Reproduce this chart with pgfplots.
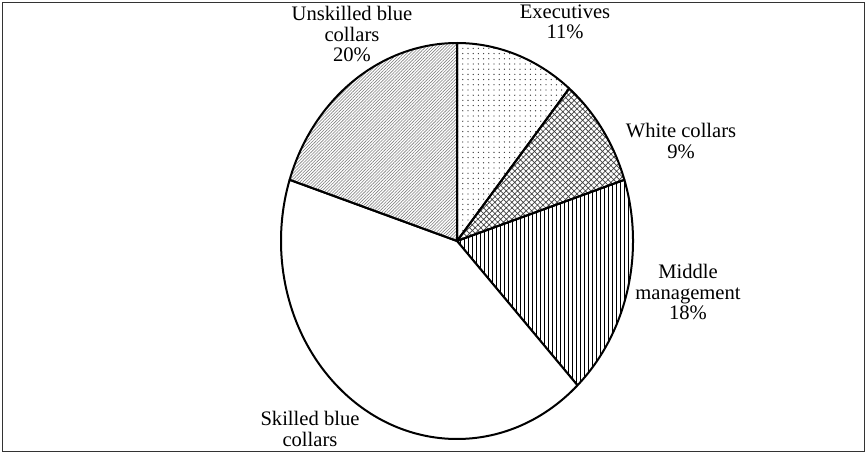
\documentclass[border=0pt]{standalone}
\usepackage{pgfplots}
\pgfplotsset{compat=1.18}
\usepackage{pgfplotstable}
\usepackage{fontspec}
\setmainfont{Liberation Serif}
\usetikzlibrary{patterns.meta}

\pgfplotstableread{
pct style
11 pexe
9 pwhite
18 pmid
42 pskilled
20 punskilled
}\piedata

\tikzset{
 pexe/.style={pattern={Dots[distance=2.6pt, radius=0.33pt]}, pattern color=black!80},
 pwhite/.style={pattern={Hatch[angle=45, distance=2pt, line width=0.35pt]}, pattern color=black!75},
 pmid/.style={pattern={Lines[angle=90, distance=2pt, line width=0.4pt]}, pattern color=black},
 pskilled/.style={fill=white},
 punskilled/.style={pattern={Lines[angle=45, distance=1.1pt, line width=0.3pt]}, pattern color=black!50},
 lab/.style={align=center, font=\fontsize{10.3}{10.3}\selectfont, inner sep=0pt},
}

\begin{document}
\begin{tikzpicture}[x=0.5pt,y=-0.5pt]
\useasboundingbox (0,0) rectangle (867,454);
\draw[line width=0.6pt, black!80] (2.5,2.5) rectangle (864.5,451.5);
\begin{axis}[
  hide axis, clip=false,
  x={(88pt,0pt)}, y={(0pt,99pt)},
  xmin=-1, xmax=1, ymin=-1, ymax=1,
  anchor=origin, at={(228.5pt,-120.5pt)},
]
\pgfplotstablegetrowsof{\piedata}
\pgfmathtruncatemacro\N{\pgfplotsretval-1}
\def\startangle{90}
\pgfplotsforeachungrouped \i in {0,...,\N}{
  \pgfplotstablegetelem{\i}{pct}\of\piedata \let\p\pgfplotsretval
  \pgfplotstablegetelem{\i}{style}\of\piedata \let\st\pgfplotsretval
  \pgfmathsetmacro\endangle{\startangle-3.6*\p}
  \pgfmathsetmacro\xs{cos(\startangle)}
  \pgfmathsetmacro\ys{sin(\startangle)}
  \edef\cmd{\noexpand\filldraw[\st, draw=black, line width=1pt, line join=round] (axis cs:0,0) -- (axis cs:\xs,\ys) arc[start angle=\startangle, end angle=\endangle, x radius=88pt, y radius=99pt] -- cycle;}
  \cmd
  \let\startangle\endangle
}
\end{axis}
\node[lab] at (565,22) {Executives\\11\%};
\node[lab] at (681,141) {White collars\\9\%};
\node[lab] at (688,292) {Middle\\management\\18\%};
\node[lab] at (352,34) {Unskilled blue\\collars\\20\%};
\node[lab, anchor=north] at (310,411) {Skilled blue\\collars};
\end{tikzpicture}
\end{document}
